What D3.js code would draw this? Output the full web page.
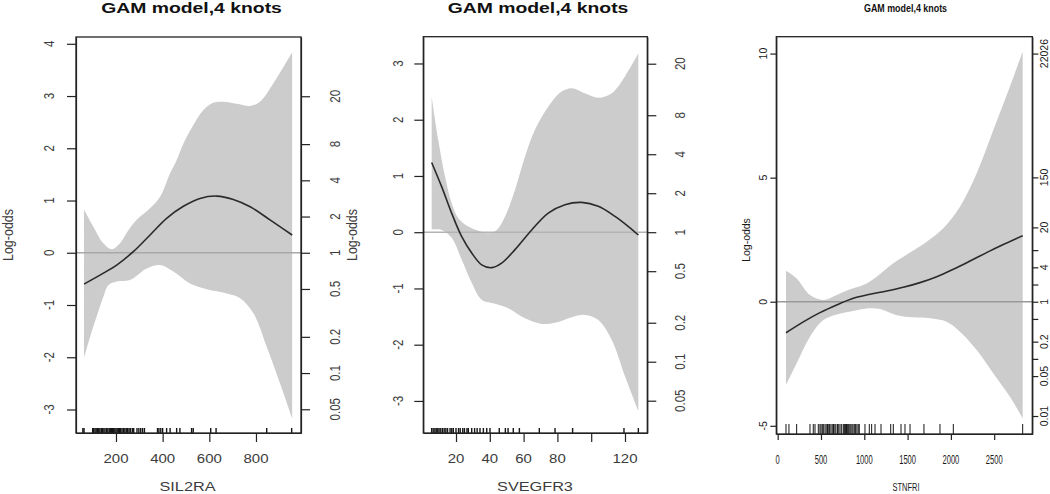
<!DOCTYPE html>
<html><head><meta charset="utf-8">
<script src="https://cdn.jsdelivr.net/npm/d3@7"></script>
<style>html,body{margin:0;padding:0;background:#fff;}svg{display:block;}</style>
</head><body><svg id="c" width="1050" height="494"></svg>
<script>
// ---------- data ----------
const titles = ["GAM model,4 knots", "GAM model,4 knots", "GAM model,4 knots"];
const xLabels = ["SIL2RA", "SVEGFR3", "STNFRI"];
const yLabel = "Log-odds";

// Panel 1: SIL2RA
const sil2raFitX = [63, 146, 203, 274, 346, 417, 489, 560, 632, 703, 775, 860, 955];
const sil2raFit  = [-0.60, -0.39, -0.235, 0.02, 0.34, 0.66, 0.89, 1.04, 1.085, 1.02, 0.88, 0.63, 0.34];
const sil2raUpX  = [63, 103, 146, 182, 217, 253, 289, 346, 389, 432, 460, 489, 531, 574, 617, 660, 717, 775, 817, 874, 955];
const sil2raUp   = [0.83, 0.5, 0.18, 0.065, 0.18, 0.43, 0.63, 0.85, 1.07, 1.52, 1.77, 2.09, 2.44, 2.73, 2.87, 2.89, 2.85, 2.81, 2.89, 3.24, 3.84];
const sil2raLoX  = [63, 89, 117, 146, 167, 203, 260, 332, 389, 446, 517, 589, 675, 732, 789, 846, 903, 955];
const sil2raLo   = [-2.02, -1.61, -1.22, -0.84, -0.62, -0.55, -0.52, -0.30, -0.235, -0.36, -0.59, -0.70, -0.78, -0.87, -1.16, -1.80, -2.50, -3.17];
const sil2raRug  = [58, 63, 100, 104, 110, 115, 120, 126, 131, 137, 142, 148, 153, 160, 165, 171, 176, 180, 185, 190, 195, 200, 205, 210, 215, 220, 226, 232, 238, 244, 250, 256, 262, 270, 276, 290, 298, 306, 314, 322, 378, 384, 392, 400, 417, 432, 460, 474, 524, 531, 606, 629, 846, 953];
const sil2raYTicks = [-3, -2, -1, 0, 1, 2, 3, 4];
const sil2raXTicks = [200, 400, 600, 800];
const sil2raXTickLabels = ["200", "400", "600", "800"];

// Panel 2: SVEGFR3
const svegfr3FitX = [5.6, 11.5, 17.4, 23.4, 29.3, 35.2, 41.1, 47, 54.9, 64.8, 74.6, 84.5, 94.4, 104.2, 114.1, 122, 127.9];
const svegfr3Fit  = [1.24, 0.81, 0.34, -0.08, -0.37, -0.58, -0.63, -0.55, -0.31, 0.04, 0.34, 0.49, 0.53, 0.46, 0.28, 0.10, -0.05];
const svegfr3UpX  = [5.6, 9.5, 13.5, 17.4, 21.4, 27.3, 33.2, 39.1, 44.1, 49, 54.9, 60.8, 66.7, 74.6, 82.5, 88.5, 96.3, 104.2, 112.1, 120, 127.9];
const svegfr3Up   = [2.41, 1.64, 0.99, 0.52, 0.25, 0.10, 0.025, -0.02, 0.04, 0.28, 0.75, 1.34, 1.82, 2.23, 2.50, 2.56, 2.47, 2.39, 2.47, 2.77, 3.18];
const svegfr3LoX  = [5.6, 11.5, 17.4, 23.4, 29.3, 35.2, 43.1, 50.9, 60.8, 70.7, 78.6, 88.5, 96.3, 104.2, 112.1, 120, 127.9];
const svegfr3Lo   = [0.05, 0.04, -0.10, -0.49, -0.90, -1.20, -1.27, -1.35, -1.53, -1.63, -1.61, -1.51, -1.47, -1.56, -1.91, -2.56, -3.18];
const svegfr3Rug  = [5.6, 6.5, 7.5, 8.3, 9.2, 10, 11, 12, 13, 14, 15, 16.5, 17.5, 18.4, 20, 21.5, 22.5, 24, 25, 26.5, 27.3, 29.3, 31, 32.5, 34.2, 36.2, 38.2, 40.1, 45.6, 49.2, 50.8, 53.9, 57.5, 69.3, 78.6, 89, 119.4, 127.9];
const svegfr3YTicks = [-3, -2, -1, 0, 1, 2, 3];
const svegfr3XTicks = [20, 40, 60, 80, 100, 120];
const svegfr3XTickLabels = ["20", "40", "60", "80", "", "120"];

// Panel 3: STNFRI
const stnfriFitX = [96, 296, 488, 681, 873, 1066, 1259, 1450, 1643, 1836, 2028, 2221, 2413, 2605, 2829];
const stnfriFit  = [-1.25, -0.81, -0.44, -0.13, 0.14, 0.30, 0.43, 0.58, 0.77, 1.01, 1.31, 1.64, 1.98, 2.31, 2.66];
const stnfriUpX  = [96, 219, 373, 527, 681, 835, 988, 1143, 1335, 1528, 1721, 1912, 2105, 2298, 2490, 2682, 2829];
const stnfriUp   = [1.25, 0.94, 0.27, 0.07, 0.27, 0.50, 0.67, 1.01, 1.55, 1.98, 2.42, 2.96, 3.83, 5.18, 6.92, 8.67, 10.08];
const stnfriLoX  = [96, 219, 373, 527, 681, 873, 1028, 1181, 1374, 1566, 1759, 1951, 2105, 2298, 2490, 2682, 2829];
const stnfriLo   = [-3.36, -2.48, -1.41, -0.74, -0.51, -0.37, -0.27, -0.29, -0.54, -0.63, -0.67, -0.81, -1.21, -1.95, -2.89, -3.83, -4.70];
const stnfriRug  = [96, 130, 219, 373, 411, 431, 469, 488, 500, 515, 527, 546, 560, 575, 590, 600, 615, 630, 645, 660, 672, 690, 705, 720, 739, 758, 770, 782, 795, 808, 820, 833, 845, 858, 870, 885, 900, 915, 930, 942, 1008, 1058, 1085, 1124, 1193, 1305, 1335, 1424, 1470, 1528, 1689, 1874, 2028, 2829];
const stnfriYTicks = [-5, 0, 5, 10];
const stnfriXTicks = [0, 500, 1000, 1500, 2000, 2500];
const stnfriXTickLabels = ["0", "500", "1000", "1500", "2000", "2500"];

// odds-ratio (right) axes
const oddsTicksA = [0.05, 0.1, 0.2, 0.5, 1, 2, 4, 8, 20];
const oddsLabelsA = ["0.05", "0.1", "0.2", "0.5", "1", "2", "4", "8", "20"];
const oddsTicksB = [0.01, 0.05, 0.1, 0.2, 0.5, 1, 2, 4, 8, 20, 150, 22026];
const oddsLabelsB = ["0.01", "0.05", "", "0.2", "", "1", "", "4", "", "20", "150", "22026"];

// ---------- drawing ----------
const svg = d3.select("#c");
const FONT = "'Liberation Sans', Arial, Helvetica, sans-serif";

function addText(g, x, y, s, o) {
  if (!s) return;
  const t = g.append("text").text(s)
    .attr("font-family", FONT)
    .attr("font-size", o.size)
    .attr("font-weight", o.weight || "normal")
    .attr("fill", o.fill || "#333")
    .attr("text-anchor", "middle");
  let tr = `translate(${x},${y}) scale(${o.sx || 1},1)`;
  if (o.rot) tr += " rotate(-90)";
  t.attr("transform", tr);
}

function panel(c) {
  const x = d3.scaleLinear().domain(c.xDom).range([c.l, c.r]);
  const y = d3.scaleLinear().domain(c.yDom).range([c.b, c.t]);
  const g = svg.append("g");
  const line = d3.line().x(d => x(d[0])).y(d => y(d[1])).curve(d3.curveCatmullRom.alpha(0.5));

  // confidence band
  const up = d3.zip(c.upX, c.up);
  const lo = d3.zip(c.loX, c.lo).reverse();
  g.append("path").attr("d", line(up) + "L" + line(lo).slice(1) + "Z")
    .attr("fill", "#cccccc").attr("stroke", "none");

  // reference line at 0
  g.append("line").attr("x1", c.l).attr("x2", c.r).attr("y1", y(0)).attr("y2", y(0))
    .attr("stroke", c.zeroCol).attr("stroke-width", 1.4);

  // fitted curve
  g.append("path").attr("d", line(d3.zip(c.fitX, c.fit)))
    .attr("fill", "none").attr("stroke", "#2a2a2a").attr("stroke-width", 1.6);

  // rug
  g.selectAll("line.rug").data(c.rug).join("line").attr("class", "rug")
    .attr("x1", d => x(d)).attr("x2", d => x(d))
    .attr("y1", c.b).attr("y2", c.b - c.rugLen)
    .attr("stroke", "#151515").attr("stroke-width", c.rugW);

  // box
  g.append("rect").attr("x", c.l).attr("y", c.t).attr("width", c.r - c.l).attr("height", c.b - c.t)
    .attr("fill", "none").attr("stroke", "#222").attr("stroke-width", 1.3);

  // axes (ticks)
  const axStyle = sel => {
    sel.attr("color", "#222");
    sel.selectAll("path").attr("stroke-width", 1.2);
    sel.selectAll("line").attr("stroke-width", 1.2);
    sel.selectAll("text").remove();
  };
  g.append("g").attr("transform", `translate(0,${c.b})`)
    .call(d3.axisBottom(x).tickValues(c.xTicks).tickSize(c.tick).tickSizeOuter(0).tickFormat(""))
    .call(axStyle);
  g.append("g").attr("transform", `translate(${c.l},0)`)
    .call(d3.axisLeft(y).tickValues(c.yTicks).tickSize(c.tick).tickSizeOuter(0).tickFormat(""))
    .call(axStyle);
  g.append("g").attr("transform", `translate(${c.r},0)`)
    .call(d3.axisRight(y).tickValues(c.odds.map(Math.log)).tickSize(c.tick).tickSizeOuter(0).tickFormat(""))
    .call(axStyle);

  // labels
  c.xTicks.forEach((v, i) => addText(g, x(v), c.xTickY, c.xTickLabels[i], c.fTickH));
  c.yTicks.forEach(v => addText(g, c.leftLabX, y(v), String(v), c.fTickV));
  c.odds.forEach((v, i) => addText(g, c.rightLabX, y(Math.log(v)), c.oddsLabels[i], c.fTickV));
  addText(g, c.titleX, c.titleY, c.title, c.fTitle);
  addText(g, c.xLabX, c.xLabY, c.xLabel, c.fXLab);
  addText(g, c.yLabX, c.yLabY, yLabel, c.fYLab);
}

const fA = {
  fTickH: { size: 12.5, sx: 1.2, fill: "#3c3c3c" },
  fTickV: { size: 11.5, sx: 1.25, rot: true, fill: "#3c3c3c" },
  fTitle: { size: 15.5, sx: 1.25, weight: "bold", fill: "#111" },
  fXLab: { size: 13, sx: 1.25, fill: "#3c3c3c" },
  fYLab: { size: 12.5, sx: 1.2, rot: true, fill: "#3c3c3c" }
};

panel(Object.assign({
  l: 76, r: 301, t: 37, b: 433, xDom: [28.6, 993], yDom: [-3.45, 4.13],
  fitX: sil2raFitX, fit: sil2raFit, upX: sil2raUpX, up: sil2raUp, loX: sil2raLoX, lo: sil2raLo,
  rug: sil2raRug, rugLen: 5, rugW: 1.4, tick: 9, zeroCol: "#a8a8a8",
  xTicks: sil2raXTicks, xTickLabels: sil2raXTickLabels, yTicks: sil2raYTicks,
  odds: oddsTicksA, oddsLabels: oddsLabelsA,
  xTickY: 463, leftLabX: 54, rightLabX: 340,
  title: titles[0], titleX: 191.5, titleY: 12.7,
  xLabel: xLabels[0], xLabX: 187.5, xLabY: 491,
  yLabX: 12.5, yLabY: 235
}, fA));

panel(Object.assign({
  l: 423.3, r: 647.3, t: 36.7, b: 433, xDom: [0.65, 133.2], yDom: [-3.57, 3.476],
  fitX: svegfr3FitX, fit: svegfr3Fit, upX: svegfr3UpX, up: svegfr3Up, loX: svegfr3LoX, lo: svegfr3Lo,
  rug: svegfr3Rug, rugLen: 5, rugW: 1.4, tick: 9, zeroCol: "#b4b4b4",
  xTicks: svegfr3XTicks, xTickLabels: svegfr3XTickLabels, yTicks: svegfr3YTicks,
  odds: oddsTicksA, oddsLabels: oddsLabelsA,
  xTickY: 463, leftLabX: 403, rightLabX: 685,
  title: titles[1], titleX: 538, titleY: 12.7,
  xLabel: xLabels[1], xLabX: 535, xLabY: 491,
  yLabX: 356.5, yLabY: 235
}, fA));

panel({
  l: 776.3, r: 1032.3, t: 36.7, b: 434, xDom: [-16, 2940], yDom: [-5.33, 10.68],
  fitX: stnfriFitX, fit: stnfriFit, upX: stnfriUpX, up: stnfriUp, loX: stnfriLoX, lo: stnfriLo,
  rug: stnfriRug, rugLen: 10, rugW: 1, tick: 6, zeroCol: "#999999",
  xTicks: stnfriXTicks, xTickLabels: stnfriXTickLabels, yTicks: stnfriYTicks,
  odds: oddsTicksB, oddsLabels: oddsLabelsB,
  xTickY: 464, leftLabX: 766.5, rightLabX: 1047.5,
  title: titles[2], titleX: 905.5, titleY: 11.7,
  xLabel: xLabels[2], xLabX: 906, xLabY: 491,
  yLabX: 750, yLabY: 240,
  fTickH: { size: 12, sx: 0.63, fill: "#1a1a1a" },
  fTickV: { size: 10.5, sx: 1.05, rot: true, fill: "#1a1a1a" },
  fTitle: { size: 11, sx: 0.81, weight: "bold", fill: "#111" },
  fXLab: { size: 11.5, sx: 0.65, fill: "#1a1a1a" },
  fYLab: { size: 10.5, sx: 1.05, rot: true, fill: "#1a1a1a" }
});
</script>
</body></html>
